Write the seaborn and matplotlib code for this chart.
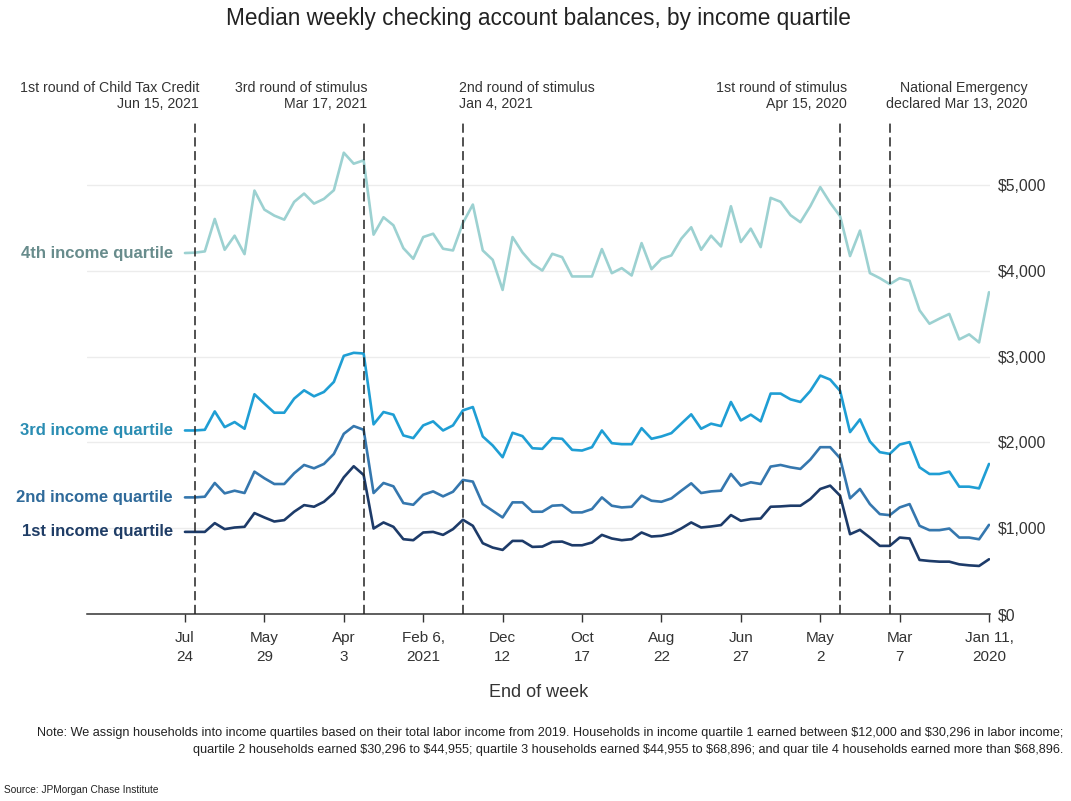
import numpy as np
import pandas as pd
import matplotlib
matplotlib.use("Agg")
import matplotlib.pyplot as plt
import seaborn as sns

# ---------------- data ----------------
# weekly points, index 0 = first week of Jan 2020, index 81 = Jul 24, 2021
weeks = list(range(82))

q4 = [3750, 3165, 3259, 3200, 3497, 3442, 3383, 3540, 3883, 3914, 3844, 3914, 3973, 4468, 4172, 4636,
      4792, 4975, 4753, 4566, 4648, 4804,
      4850, 4276, 4491, 4335, 4752, 4284, 4409, 4245, 4507, 4374, 4179, 4140, 4019, 4323, 3945, 4031,
      3972, 4253, 3934, 3934,
      3934, 4159, 4198, 4003, 4081, 4214, 4393, 3777, 4128, 4237, 4772, 4557, 4237, 4257, 4432, 4393,
      4140, 4264, 4530, 4624,
      4421, 5287, 5248, 5376, 4939, 4838, 4783, 4900, 4803, 4596, 4643, 4713, 4935, 4194, 4409, 4245,
      4604, 4226, 4211, 4207]

q3 = [1749, 1464, 1484, 1484, 1659, 1632, 1632, 1710, 2003, 1975, 1866, 1886, 2011, 2268, 2120, 2600,
      2732, 2779, 2600, 2471, 2502, 2569,
      2569, 2245, 2323, 2256, 2471, 2190, 2218, 2159, 2327, 2218, 2108, 2069, 2042, 2166, 1979, 1979,
      1991, 2139, 1944, 1905,
      1913, 2042, 2050, 1925, 1932, 2073, 2112, 1827, 1964, 2069, 2412, 2373, 2198, 2139, 2245, 2198,
      2050, 2081, 2323, 2354,
      2210, 3036, 3044, 3009, 2705, 2588, 2537, 2607, 2510, 2346, 2346, 2452, 2561, 2159, 2237, 2178,
      2361, 2147, 2139, 2139]

q2 = [1039, 871, 891, 891, 996, 977, 977, 1028, 1281, 1242, 1152, 1164, 1281, 1457, 1348, 1815,
      1944, 1944, 1800, 1691, 1710, 1737,
      1718, 1515, 1535, 1496, 1632, 1437, 1429, 1410, 1523, 1437, 1347, 1308, 1320, 1379, 1250, 1242,
      1262, 1359, 1223, 1184,
      1184, 1269, 1262, 1192, 1192, 1301, 1301, 1125, 1203, 1281, 1543, 1562, 1425, 1371, 1429, 1390,
      1273, 1293, 1488, 1527,
      1410, 2147, 2190, 2100, 1866, 1749, 1698, 1737, 1640, 1515, 1515, 1582, 1659, 1410, 1437, 1406,
      1527, 1367, 1359, 1359]

q1 = [638, 560, 567, 579, 610, 610, 618, 630, 880, 891, 794, 794, 891, 981, 930, 1379,
      1496, 1457, 1340, 1262, 1262, 1254,
      1250, 1113, 1106, 1086, 1153, 1036, 1020, 1008, 1067, 997, 938, 911, 903, 950, 872, 860,
      880, 922, 833, 801,
      801, 844, 840, 786, 782, 852, 852, 747, 774, 825, 1028, 1098, 989, 922, 957, 950,
      860, 872, 1016, 1067,
      996, 1620, 1722, 1593, 1410, 1308, 1250, 1269, 1192, 1094, 1078, 1125, 1176, 1016, 1008, 989,
      1059, 957, 957, 957]

quartiles = ["1st income quartile", "2nd income quartile", "3rd income quartile", "4th income quartile"]
line_colors = ["#1d3b69", "#3577ae", "#1f9ed4", "#9cd1d1"]
label_colors = ["#1f3d66", "#2f6a9a", "#2a8db3", "#688c8c"]

tick_weeks = [0, 9, 17, 25, 33, 41, 49, 57, 65, 73, 81]
tick_labels = ["Jan 11,\n2020", "Mar\n7", "May\n2", "Jun\n27", "Aug\n22", "Oct\n17", "Dec\n12",
               "Feb 6,\n2021", "Apr\n3", "May\n29", "Jul\n24"]

event_weeks = [10, 15, 53, 63, 80]
event_labels = ["National Emergency\ndeclared Mar 13, 2020",
                "1st round of stimulus\nApr 15, 2020",
                "2nd round of stimulus\nJan 4, 2021",
                "3rd round of stimulus\nMar 17, 2021",
                "1st round of Child Tax Credit\nJun 15, 2021"]

y_ticks = [0, 1000, 2000, 3000, 4000, 5000]

title = "Median weekly checking account balances, by income quartile"
x_title = "End of week"
note = ("Note: We assign households into income quartiles based on their total labor income from 2019. "
        "Households in income quartile 1 earned between \\$12,000 and \\$30,296 in labor income;\n"
        "quartile 2 households earned \\$30,296 to \\$44,955; quartile 3 households earned \\$44,955 to \\$68,896; "
        "and quar tile 4 households earned more than \\$68,896.")
source = "Source: JPMorgan Chase Institute"

# ---------------- figure ----------------
sns.set_theme(style="white")
plt.rcParams["font.family"] = ["Liberation Sans", "DejaVu Sans"]

W, H = 1071, 801
fig = plt.figure(figsize=(W / 100, H / 100), dpi=100)
ax = fig.add_axes([87 / W, (H - 614) / H, (990 - 87) / W, (614 - 122) / H])

df = pd.DataFrame({
    "week": weeks * 4,
    "balance": q1 + q2 + q3 + q4,
    "quartile": [quartiles[0]] * 82 + [quartiles[1]] * 82 + [quartiles[2]] * 82 + [quartiles[3]] * 82,
})
sns.lineplot(data=df, x="week", y="balance", hue="quartile", hue_order=quartiles,
             palette=dict(zip(quartiles, line_colors)), linewidth=1.9, legend=False, ax=ax,
             estimator=None)

ax.set_xlim(90.87, -0.1)
ax.set_ylim(0, 5734)

# grid / spines
ax.set_yticks(y_ticks)
ax.set_yticklabels([f"${v:,.0f}" for v in y_ticks])
ax.yaxis.tick_right()
ax.tick_params(axis="y", length=0, pad=6, labelsize=11.3, labelcolor="#333333")
ax.grid(axis="y", color="#ececec", linewidth=1)
ax.grid(axis="x", visible=False)
for s in ["top", "left", "right"]:
    ax.spines[s].set_visible(False)
ax.spines["bottom"].set_color("#333333")
ax.spines["bottom"].set_linewidth(1.1)

ax.set_xticks(tick_weeks)
ax.set_xticklabels(tick_labels, linespacing=1.45)
ax.tick_params(axis="x", length=6, width=1, color="#333333", pad=6, labelsize=11,
               labelcolor="#333333", bottom=True)
ax.set_xlabel(x_title, fontsize=13, color="#333333", labelpad=15)
ax.set_ylabel("")

# event lines and labels
ev_style = [("right", 138), ("right", 7), ("left", -4), ("right", 4), ("right", 4)]
for w, lab, (ha, dx) in zip(event_weeks, event_labels, ev_style):
    ax.axvline(w, color="#222222", linewidth=1.1, linestyle=(0, (6, 3)), zorder=5)
    ax.annotate(lab, xy=(w, 1), xycoords=("data", "axes fraction"),
                xytext=(dx, 11), textcoords="offset pixels",
                ha=ha, va="bottom", multialignment=ha, fontsize=10.2, color="#333333",
                linespacing=1.2)

# series labels at the end of each line
for q, vals, c in zip(quartiles, [q1, q2, q3, q4], label_colors):
    ax.annotate(q, xy=(weeks[-1], vals[-1]), xytext=(-12, 0), textcoords="offset pixels",
                ha="right", va="center", fontsize=12, fontweight="bold", color=c)

fig.text(538 / W, 1 - 18 / H, title, ha="center", va="center", fontsize=16.3, color="#222222")
fig.text(1063 / W, 1 - 727 / H, note, ha="right", va="top", multialignment="right",
         fontsize=9.05, color="#222222", linespacing=1.6)
fig.text(4 / W, 1 - 790 / H, source, ha="left", va="center", fontsize=7.3, color="#222222")

fig.savefig("out.png", dpi=100)
